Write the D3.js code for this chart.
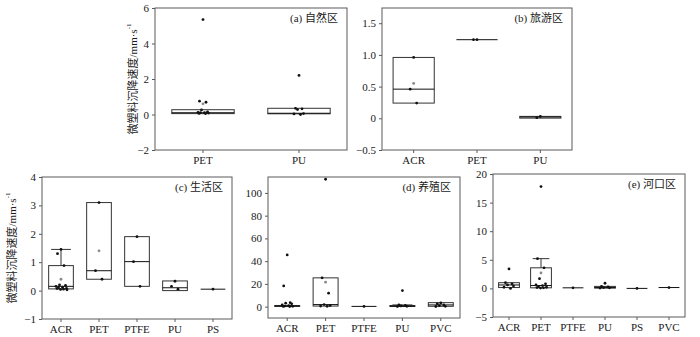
<!DOCTYPE html>
<html>
<head>
<meta charset="utf-8">
<script src="https://cdn.jsdelivr.net/npm/d3@7"></script>
<style>
  html, body { margin: 0; padding: 0; background: #fff; }
  svg { display: block; }
  text { font-family: "Liberation Serif", "Noto Sans CJK SC", serif; fill: #1a1a1a; }
</style>
</head>
<body>
<svg id="chart" width="700" height="337"></svg>
<script>
// ---- (a) 自然区 ----
const catsA = ["PET", "PU"];
// [lower whisker, Q1, median, Q3, upper whisker]
const boxA = [[0.02, 0.05, 0.1, 0.27, 0.27], [0.0, 0.04, 0.07, 0.35, 0.35]];
const meanA = [0.6, null];
const ptsA = [
  [5.35, 0.75, 0.69, 0.26, 0.15, 0.12, 0.1, 0.1, 0.08, 0.06, 0.05],
  [2.2, 0.35, 0.32, 0.28, 0.05, 0.03, 0.0]
];
const ticksA = [-2, 0, 2, 4, 6];
const tickLabelsA = ["−2", "0", "2", "4", "6"];

// ---- (b) 旅游区 ----
const catsB = ["ACR", "PET", "PU"];
const boxB = [[0.24, 0.24, 0.46, 0.96, 0.96], [1.24, 1.24, 1.24, 1.24, 1.24], [0.0, 0.003, 0.02, 0.03, 0.03]];
const meanB = [0.55, null, null];
const ptsB = [[0.96, 0.46, 0.24], [1.24, 1.24], [0.03, 0.01]];
const ticksB = [-0.5, 0, 0.5, 1.0, 1.5];
const tickLabelsB = ["−0.5", "0", "0.5", "1.0", "1.5"];

// ---- (c) 生活区 ----
const catsC = ["ACR", "PET", "PTFE", "PU", "PS"];
const boxC = [
  [0.02, 0.06, 0.15, 0.88, 1.45],
  [0.4, 0.4, 0.7, 3.1, 3.1],
  [0.15, 0.15, 1.02, 1.9, 1.9],
  [0.0, 0.0, 0.1, 0.34, 0.34],
  [0.05, 0.05, 0.05, 0.05, 0.05]
];
const meanC = [0.4, 1.4, null, null, null];
const ptsC = [
  [1.45, 1.3, 0.88, 0.2, 0.18, 0.15, 0.12, 0.1, 0.08, 0.07, 0.05, 0.04, 0.03],
  [3.1, 0.7, 0.4],
  [1.9, 1.02, 0.15],
  [0.33, 0.15, 0.05],
  [0.05]
];
const ticksC = [-1, 0, 1, 2, 3, 4];
const tickLabelsC = ["−1", "0", "1", "2", "3", "4"];

// ---- (d) 养殖区 ----
const catsD = ["ACR", "PET", "PTFE", "PU", "PVC"];
const boxD = [
  [0.0, 0.2, 0.5, 1.0, 1.0],
  [0.3, 0.5, 1.8, 25.3, 25.3],
  [0.2, 0.2, 0.2, 0.2, 0.2],
  [0.1, 0.1, 0.4, 1.0, 1.5],
  [0.1, 0.3, 1.5, 3.5, 3.5]
];
const meanD = [null, 21.5, null, null, null];
const ptsD = [
  [45.5, 18.2, 3.5, 3.0, 2.5, 1.5, 0.8, 0.5, 0.3, 0.2, 0.1],
  [112, 25.3, 11.8, 1.8, 1.0, 0.5, 0.3],
  [0.2],
  [14.1, 1.5, 1.0, 0.6, 0.3, 0.1],
  [3.2, 2.5, 1.5, 0.8, 0.3, 0.1]
];
const ticksD = [0, 20, 40, 60, 80, 100];
const tickLabelsD = ["0", "20", "40", "60", "80", "100"];

// ---- (e) 河口区 ----
const catsE = ["ACR", "PET", "PTFE", "PU", "PS", "PVC"];
const boxE = [
  [0.0, 0.15, 0.6, 1.0, 1.0],
  [0.05, 0.1, 0.5, 3.6, 5.2],
  [0.1, 0.1, 0.1, 0.1, 0.1],
  [0.05, 0.05, 0.15, 0.35, 0.35],
  [0.0, 0.0, 0.0, 0.0, 0.0],
  [0.15, 0.15, 0.15, 0.15, 0.15]
];
const meanE = [null, 2.7, null, null, null, null];
const ptsE = [
  [3.4, 1.0, 0.8, 0.6, 0.4, 0.2, 0.0],
  [17.8, 5.2, 3.6, 1.7, 0.8, 0.6, 0.5, 0.3, 0.2, 0.15, 0.1, 0.05],
  [0.1],
  [0.9, 0.35, 0.25, 0.15, 0.1, 0.05],
  [0.0],
  [0.15]
];
const ticksE = [-5, 0, 5, 10, 15, 20];
const tickLabelsE = ["−5", "0", "5", "10", "15", "20"];

const yTitle = "微塑料沉降速度/mm·s";

// Panel layout (frame rectangles) and y-domains
const panels = [
  { title: "(a) 自然区", cats: catsA, box: boxA, mean: meanA, pts: ptsA, ticks: ticksA, labels: tickLabelsA,
    x0: 155, x1: 347, y0: 8, y1: 150, dom: [-2, 6], ylab: 133 },
  { title: "(b) 旅游区", cats: catsB, box: boxB, mean: meanB, pts: ptsB, ticks: ticksB, labels: tickLabelsB,
    x0: 382, x1: 572, y0: 8, y1: 150, dom: [-0.5, 1.74] },
  { title: "(c) 生活区", cats: catsC, box: boxC, mean: meanC, pts: ptsC, ticks: ticksC, labels: tickLabelsC,
    x0: 42, x1: 232, y0: 177, y1: 319, dom: [-1, 4], ylab: 12 },
  { title: "(d) 养殖区", cats: catsD, box: boxD, mean: meanD, pts: ptsD, ticks: ticksD, labels: tickLabelsD,
    x0: 268, x1: 460, y0: 177, y1: 318, dom: [-10, 114] },
  { title: "(e) 河口区", cats: catsE, box: boxE, mean: meanE, pts: ptsE, ticks: ticksE, labels: tickLabelsE,
    x0: 493, x1: 685, y0: 174, y1: 317, dom: [-5, 20] }
];

const svg = d3.select("#chart");
const frameColor = "#5a5a5a";

// deterministic horizontal spread for the raw observations
function spread(i, n) {
  if (n === 1) return 0;
  const pattern = [0, -3.5, 3, -1.5, 4.5, -5, 1.5, -2.5, 5.5, -4, 2.5, -0.5, 6];
  return pattern[i % pattern.length];
}

panels.forEach(p => {
  const g = svg.append("g");
  const x = d3.scaleBand().domain(p.cats).range([p.x0, p.x1]).padding(0);
  const y = d3.scaleLinear().domain(p.dom).range([p.y1, p.y0]);
  const bw = x.bandwidth() * 0.65;

  // axes
  const yAxis = d3.axisLeft(y).tickValues(p.ticks).tickSize(3).tickPadding(3)
    .tickFormat((d, i) => p.labels[i]);
  const ya = g.append("g").attr("transform", `translate(${p.x0},0)`).call(yAxis);
  const xAxis = d3.axisBottom(x).tickSize(3).tickPadding(3);
  const xa = g.append("g").attr("transform", `translate(0,${p.y1})`).call(xAxis);
  [ya, xa].forEach(a => {
    a.select(".domain").remove();
    a.selectAll(".tick line").attr("stroke", frameColor);
    a.selectAll(".tick text").attr("font-size", 11)
      .style("font-family", "'Liberation Serif', serif").attr("fill", "#1a1a1a");
  });

  // frame
  g.append("rect").attr("x", p.x0).attr("y", p.y0)
    .attr("width", p.x1 - p.x0).attr("height", p.y1 - p.y0)
    .attr("fill", "none").attr("stroke", frameColor).attr("stroke-width", 1);

  // boxes
  p.cats.forEach((c, k) => {
    const [lo, q1, med, q3, hi] = p.box[k];
    const cx = x(c) + x.bandwidth() / 2;
    const bg = g.append("g");
    if (hi > q3) {
      bg.append("line").attr("x1", cx).attr("x2", cx).attr("y1", y(q3)).attr("y2", y(hi))
        .attr("stroke", "#333");
      bg.append("line").attr("x1", cx - bw * 0.4).attr("x2", cx + bw * 0.4)
        .attr("y1", y(hi)).attr("y2", y(hi)).attr("stroke", "#333");
    }
    if (lo < q1) {
      bg.append("line").attr("x1", cx).attr("x2", cx).attr("y1", y(q1)).attr("y2", y(lo))
        .attr("stroke", "#333");
    }
    bg.append("rect").attr("x", cx - bw / 2).attr("y", y(q3))
      .attr("width", bw).attr("height", Math.max(0, y(q1) - y(q3)))
      .attr("fill", "#fff").attr("stroke", "#333").attr("stroke-width", 1);
    bg.append("line").attr("x1", cx - bw / 2).attr("x2", cx + bw / 2)
      .attr("y1", y(med)).attr("y2", y(med)).attr("stroke", "#111").attr("stroke-width", 1);

    // raw observations
    const vals = p.pts[k];
    bg.selectAll("circle.pt").data(vals).enter().append("circle")
      .attr("class", "pt")
      .attr("cx", (d, i) => cx + spread(i, vals.length))
      .attr("cy", d => y(d)).attr("r", 1.4).attr("fill", "#111");
    // mean
    if (p.mean[k] != null) {
      bg.append("circle").attr("cx", cx).attr("cy", y(p.mean[k]))
        .attr("r", 1.4).attr("fill", "#888");
    }
  });

  // panel title
  g.append("text").attr("x", p.x1 - 9).attr("y", p.y0 + 14)
    .attr("text-anchor", "end").attr("font-size", 11).text(p.title);

  // y-axis title
  if (p.ylab != null) {
    const cy = (p.y0 + p.y1) / 2;
    const t = g.append("text")
      .attr("transform", `translate(${p.ylab},${cy}) rotate(-90)`)
      .attr("text-anchor", "middle").attr("dominant-baseline", "central")
      .attr("font-size", 11);
    t.append("tspan").text(yTitle);
    t.append("tspan").attr("font-size", 7).attr("dy", -4).text("-1");
  }
});
</script>
</body>
</html>
